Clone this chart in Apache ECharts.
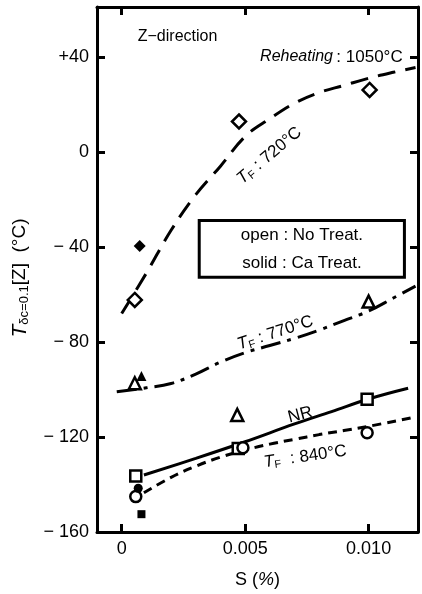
<!DOCTYPE html>
<html>
<head>
<meta charset="utf-8">
<script src="https://cdn.jsdelivr.net/npm/echarts@6/dist/echarts.min.js"></script>
<style>
html,body{margin:0;padding:0;background:#fff;}
#c{width:422px;height:594px;}
</style>
</head>
<body>
<div id="c"></div>
<script>
// ---- data (S in %, temperature in °C) ----
const xTicks = [0, 0.005, 0.010];
const xTickLabels = ['0', '0.005', '0.010'];
const yTicks = [40, 0, -40, -80, -120, -160];

const curve720X = [0, 0.001, 0.002, 0.003, 0.004, 0.005, 0.006, 0.007, 0.008, 0.009, 0.010, 0.011, 0.0119];
const curve720Y = [-68, -51, -33, -18, -6, 6.5, 14, 20.5, 25, 28, 31, 33.5, 35.5];

const curve770X = [-0.0002, 0.001, 0.002, 0.003, 0.004, 0.005, 0.006, 0.007, 0.008, 0.009, 0.010, 0.011, 0.0119];
const curve770Y = [-101, -99.3, -97.5, -93.5, -88.5, -84.5, -81.5, -78.5, -75, -71, -67, -61.5, -56.5];

const curveNRX = [0.0009, 0.003, 0.005, 0.007, 0.0085, 0.010, 0.0116];
const curveNRY = [-136, -129, -122, -114.5, -109.3, -104, -99.5];

const curve840X = [0.0009, 0.002, 0.003, 0.004, 0.005, 0.006, 0.007, 0.008, 0.009, 0.010, 0.0117];
const curve840Y = [-143.5, -137, -132.3, -128.5, -125.5, -123, -121, -119, -117.3, -115.5, -112];

const openDiamond  = [[0.00053, -62.3], [0.00475, 12.8], [0.01004, 26.1]];
const solidDiamond = [[0.00073, -39.6]];
const openTriangle = [[0.00053, -97.4], [0.00468, -110.7], [0.0100, -63]];
const solidTriangle= [[0.0008, -94.3]];
const openSquare   = [[0.00057, -136.4], [0.00472, -124.8], [0.00994, -104.1]];
const solidSquare  = [[0.0008, -152.5]];
const openCircle   = [[0.00057, -145.1], [0.00491, -124.5], [0.00994, -118.2]];
const solidCircle  = [[0.00067, -141.6]];

const FONT = '"Liberation Sans", Arial, sans-serif';

function zip(xs, ys){ return xs.map((x,i)=>[x, ys[i]]); }

const chart = echarts.init(document.getElementById('c'), null, {renderer:'canvas'});

const axisLine = {show:true, onZero:false, lineStyle:{color:'#000', width:3}};
const tick = {show:true, inside:true, length:8, lineStyle:{color:'#000', width:3}};

function lineSeries(name, data, type, width){
  return {
    name, type:'line', data, smooth:0.4, symbol:'none', z:2,
    lineStyle:{color:'#000', width:width||3, type:type, cap:'butt'}
  };
}
function scatterSeries(name, data, symbol, size, solid){
  return {
    name, type:'scatter', data, symbol, symbolSize:size, z:5,
    itemStyle:{color: solid ? '#000' : '#fff', borderColor:'#000', borderWidth: solid ? 0 : 2.5, opacity:1}
  };
}

chart.setOption({
  animation:false,
  backgroundColor:'#fff',
  grid:{left:97, right:4, top:7, bottom:62},
  xAxis:[{
    type:'value', min:-0.001, max:0.012, position:'bottom',
    axisLine, splitLine:{show:false},
    axisTick:Object.assign({customValues:xTicks}, tick),
    axisLabel:{customValues:xTicks, formatter:(v)=>{const i=xTicks.findIndex(t=>Math.abs(t-v)<1e-9);return i>=0?xTickLabels[i]:'';}, color:'#000', fontSize:18, fontFamily:FONT, margin:8},
    name:'{n|S (}{p|%}{n|)}', nameLocation:'middle', nameGap:39,
    nameTextStyle:{rich:{n:{fontSize:18, fontFamily:FONT, color:'#000'}, p:{fontSize:18, fontFamily:FONT, fontStyle:'italic', color:'#000'}}}
  },{
    type:'value', min:-0.001, max:0.012, position:'top',
    axisLine, splitLine:{show:false},
    axisTick:Object.assign({customValues:xTicks}, tick),
    axisLabel:{show:false}
  }],
  yAxis:[{
    type:'value', min:-160, max:61, interval:40, position:'left',
    axisLine, splitLine:{show:false}, axisTick:tick,
    axisLabel:{showMaxLabel:false, color:'#000', fontSize:18, fontFamily:FONT, margin:8,
      formatter:(v)=> v>0 ? '+'+v : (v<0 ? '\u2212 '+(-v) : '0')}
  },{
    type:'value', min:-160, max:61, interval:40, position:'right',
    axisLine, splitLine:{show:false}, axisTick:tick, axisLabel:{show:false}
  }],
  series:[
    lineSeries('TF720', zip(curve720X, curve720Y), [18,10]),
    lineSeries('TF770', zip(curve770X, curve770Y), [20,7,4,7]),
    lineSeries('NR', zip(curveNRX, curveNRY), 'solid'),
    lineSeries('TF840', zip(curve840X, curve840Y), [9,6]),
    scatterSeries('openDiamond', openDiamond, 'diamond', 14, false),
    scatterSeries('solidDiamond', solidDiamond, 'diamond', 12, true),
    scatterSeries('openTriangle', openTriangle, 'triangle', 12, false),
    scatterSeries('solidTriangle', solidTriangle, 'triangle', 10, true),
    scatterSeries('openSquare', openSquare, 'rect', 11, false),
    scatterSeries('solidSquare', solidSquare, 'rect', 8, true),
    scatterSeries('openCircle', openCircle, 'circle', 11, false),
    scatterSeries('solidCircle', solidCircle, 'circle', 9, true)
  ]
});

// ---- annotations, placed by data coordinates ----
function P(x,y){ return chart.convertToPixel({xAxisIndex:0, yAxisIndex:0}, [x,y]); }
const tfRich = {
  t:{fontSize:17, fontStyle:'italic', fontFamily:FONT, color:'#000'},
  s:{fontSize:11, fontFamily:FONT, color:'#000', padding:[8,0,0,0]},
  n:{fontSize:17, fontFamily:FONT, color:'#000'}
};
function label(text, x, y, deg, opts){
  const p = P(x,y);
  return Object.assign({
    type:'text', x:p[0], y:p[1], rotation:deg*Math.PI/180, z:10,
    style:{text, align:'center', verticalAlign:'middle', rich:tfRich, fontSize:17, fontFamily:FONT, fill:'#000'}
  }, opts||{});
}
const b1 = P(0.00314, -28.9), b2 = P(0.01145, -52.8);
const zp = P(0.00065, 48.4), rp = P(0.01138, 40);
chart.setOption({graphic:[
  {type:'text', x:zp[0], y:zp[1], z:10, style:{text:'Z\u2212direction', fontSize:16, fontFamily:FONT, fill:'#000', align:'left', verticalAlign:'middle'}},
  {type:'text', x:rp[0], y:rp[1], z:10, style:{text:'{i|Reheating} {n|: 1050°C}', align:'right', verticalAlign:'middle',
     rich:{i:{fontSize:16, fontFamily:FONT, fontStyle:'italic', color:'#000'}, n:{fontSize:17, fontFamily:FONT, color:'#000'}}}},
  label('{t|T}{s|F}{n| : 720°C}', 0.00598, -1.5, 40),
  label('{t|T}{s|F}{n| : 770°C}', 0.00622, -76.2, 18),
  label('{n|NR}', 0.00723, -110.7, 15),
  label('{t|T}{s|F}{n|  : 840°C}', 0.00743, -128.3, 8),
  {type:'rect', z:8, shape:{x:b1[0], y:b1[1], width:b2[0]-b1[0], height:b2[1]-b1[1]},
   style:{fill:'#fff', stroke:'#000', lineWidth:3}},
  label('{n|open : No Treat.}', 0.0073, -34.9, 0),
  label('{n|solid : Ca Treat.}', 0.0073, -46.7, 0),
  {type:'text', x:20, y:278, rotation:Math.PI/2, z:10,
   style:{text:'{t|T}{s|δc=0.1}{n|[Z]  (°C)}', align:'center', verticalAlign:'middle',
     rich:{t:{fontSize:21, fontStyle:'italic', fontFamily:FONT, color:'#000'},
           s:{fontSize:13, fontFamily:FONT, color:'#000', padding:[9,0,0,0]},
           n:{fontSize:19, fontFamily:FONT, color:'#000'}}}}
]});
</script>
</body>
</html>
